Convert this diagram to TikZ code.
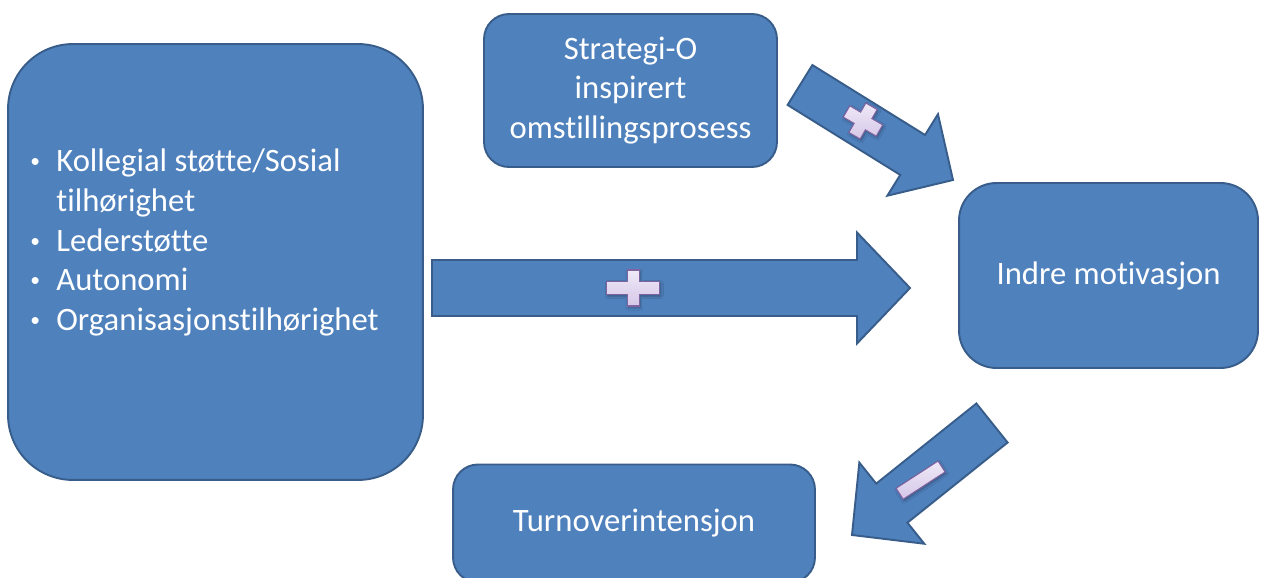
\documentclass[tikz,border=0pt]{standalone}
\usepackage{fontspec}
\usepackage{graphicx}
\setmainfont[Ligatures={NoCommon,NoContextual},RawFeature={-calt;-liga;-clig}]{Carlito}
\usetikzlibrary{calc,shadows.blur}
\definecolor{boxBlue}{HTML}{4F81BD}
\definecolor{boxEdge}{HTML}{385D8A}
\definecolor{signTop}{HTML}{EFE9F7}
\definecolor{signBot}{HTML}{D5C7E8}
\definecolor{signEdge}{HTML}{8064A2}
\tikzset{
  box/.style={rectangle, draw=boxEdge, fill=boxBlue, line width=1.1pt,
              text=white, align=center, inner sep=0pt,
              font=\fontsize{18.6}{22.7}\selectfont},
  lbl/.style={text=white, align=left, inner sep=0pt,
              font=\fontsize{18.6}{22.7}\selectfont},
  blockarr/.style={draw=boxEdge, fill=boxBlue, line width=1.1pt, line join=miter},
  sign/.style={draw=signEdge, line width=0.6pt, top color=signTop, bottom color=signBot,
              blur shadow={shadow xshift=0.6pt, shadow yshift=-0.9pt,
                           shadow blur radius=1.4pt, shadow opacity=35}},
}
% block arrow: from, to, half shaft, half head, head length
\newcommand{\blockarrow}[5]{%
  \coordinate (hb) at ($(#2)!#5!(#1)$);
  \draw[blockarr] ($(#1)!#3!90:(#2)$) -- ($(hb)!#3!90:(#2)$) -- ($(hb)!#4!90:(#2)$)
    -- (#2) -- ($(hb)!#4!-90:(#2)$) -- ($(hb)!#3!-90:(#2)$) -- ($(#1)!#3!-90:(#2)$) -- cycle;
}
% plus sign: centre, angle, half arm x, half arm y, half bar x, half bar y
\newcommand{\plussign}[6]{%
  \path[sign, shift={(#1)}, rotate=#2] (-#3,-#5) -- (-#6,-#5) -- (-#6,-#4) -- (#6,-#4)
    -- (#6,-#5) -- (#3,-#5) -- (#3,#5) -- (#6,#5) -- (#6,#4) -- (-#6,#4) -- (-#6,#5)
    -- (-#3,#5) -- cycle;
}
\newcommand{\itm}{\makebox[0.58cm][l]{\makebox[0.32cm]{\raisebox{0.08cm}{\scalebox{0.6}{\textbullet}}}}}

\begin{document}
\begin{tikzpicture}[x=0.02cm, y=-0.02cm]
  \useasboundingbox (0,0) rectangle (1262,578);
  % boxes
  \node[box, rounded corners=1.3cm, minimum width=8.3cm, minimum height=8.72cm] (fact) at (215.5,262) {};
  \node[lbl, anchor=west] (factlist) at (27,242.5) {%
    \itm Kollegial støtte/Sosial\\
    \hspace*{0.58cm}tilhørighet\\
    \itm Lederstøtte\\
    \itm Autonomi\\
    \itm Organisasjonstilhørighet};
  \node[box, rounded corners=0.5cm, minimum width=5.86cm, minimum height=3.06cm] (strat) at (630.5,90.5)
    {Strategi-O\\inspirert\\omstillingsprosess};
  \node[box, rounded corners=0.75cm, minimum width=5.98cm, minimum height=3.7cm] (indre) at (1108.5,275.5)
    {Indre motivasjon};
  \node[box, rounded corners=0.5cm, minimum width=7.24cm, minimum height=2.36cm] (turn) at (634,523.5)
    {Turnoverintensjon};
  % arrows
  \coordinate (a1s) at (432,288);
  \coordinate (a1e) at (910,288);
  \coordinate (a2s) at (800,85);
  \coordinate (a2e) at (953,180);
  \coordinate (a3s) at (992,423);
  \coordinate (a3e) at (852,535);
  \blockarrow{a1s}{a1e}{0.56cm}{1.11cm}{1.06cm}
  \blockarrow{a2s}{a2e}{0.47cm}{0.96cm}{0.95cm}
  \blockarrow{a3s}{a3e}{0.5cm}{1.04cm}{1.02cm}
  % signs
  \coordinate (p1) at ($(a1s)!0.421!(a1e)$);
  \coordinate (p2) at (863,121);
  \coordinate (m3) at ($(a3s)!0.51!(a3e)$);
  \plussign{p1}{0}{26.5}{18}{6.5}{6}
  \plussign{p2}{-30}{19}{17}{6.5}{6.5}
  \path[sign, shift={(m3)}, rotate=33] (-25,-6.5) rectangle (25,6.5);
\end{tikzpicture}
\end{document}
